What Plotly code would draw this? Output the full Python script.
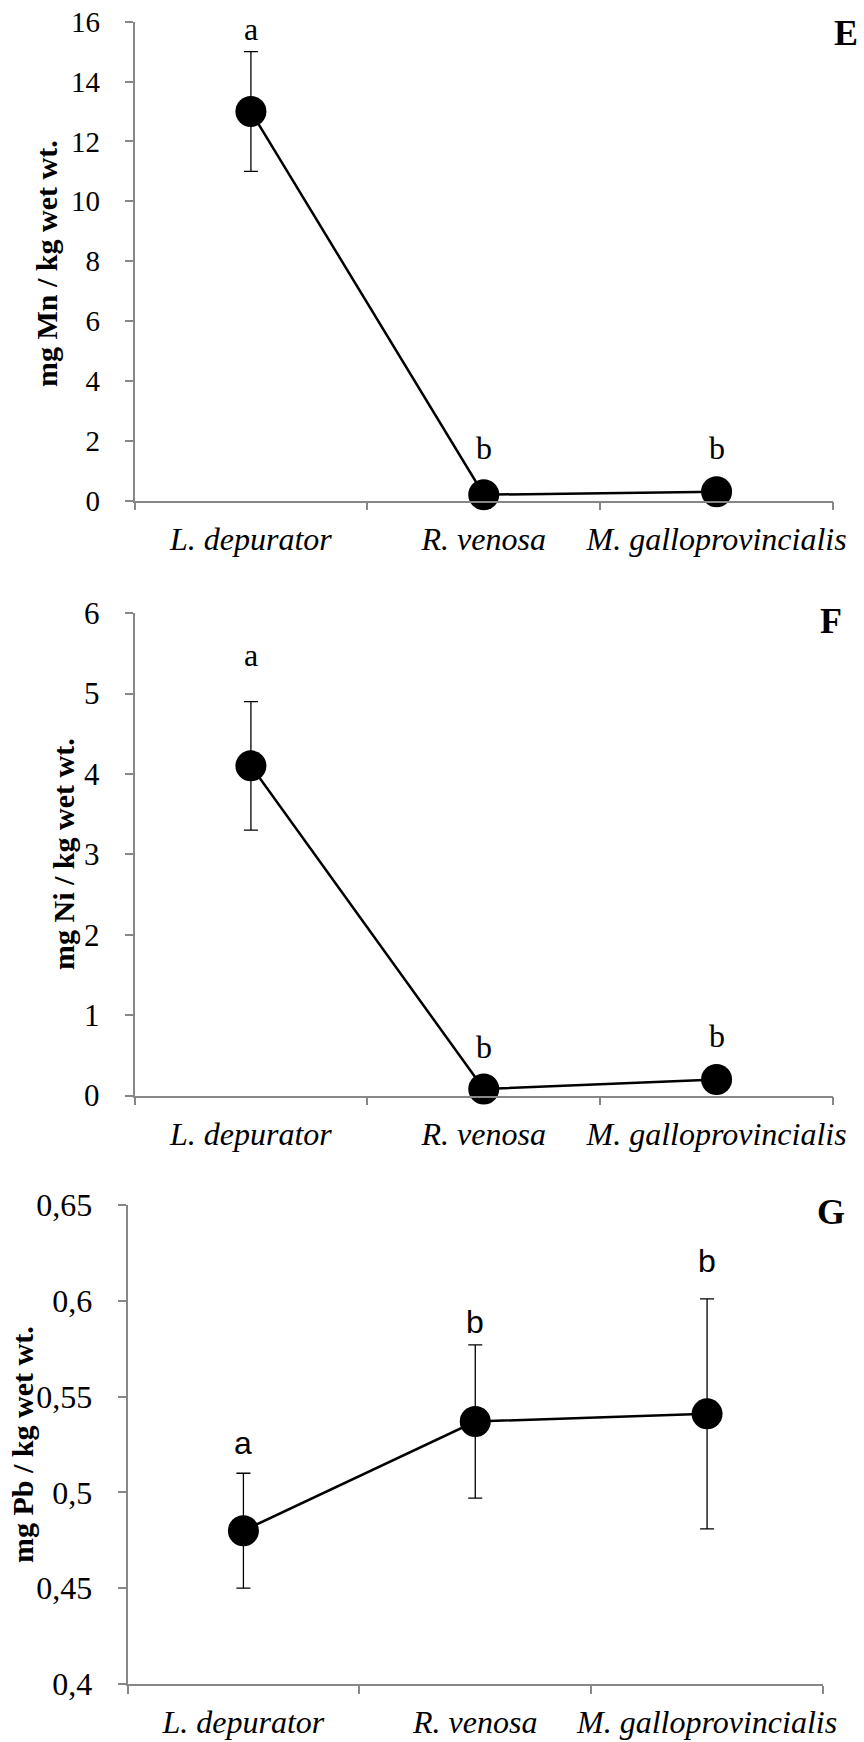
import plotly.graph_objects as go

W, H = 864, 1742

categories = ["L. depurator", "R. venosa", "M. galloprovincialis"]

mn_mean = [13.0, 0.2, 0.3]
mn_err = [2.0, 0.1, 0.1]
mn_letters = ["a", "b", "b"]
mn_letter_y = [15.75, 1.75, 1.75]
mn_ticks = [0, 2, 4, 6, 8, 10, 12, 14, 16]

ni_mean = [4.1, 0.08, 0.2]
ni_err = [0.8, 0.03, 0.05]
ni_letters = ["a", "b", "b"]
ni_letter_y = [5.48, 0.6, 0.74]
ni_ticks = [0, 1, 2, 3, 4, 5, 6]

pb_mean = [0.48, 0.537, 0.541]
pb_err = [0.03, 0.04, 0.06]
pb_letters = ["a", "b", "b"]
pb_letter_y = [0.526, 0.589, 0.621]
pb_ticks = [0.4, 0.45, 0.5, 0.55, 0.6, 0.65]
pb_ticktext = ["0,4", "0,45", "0,5", "0,55", "0,6", "0,65"]

SERIF = "Liberation Serif, Times New Roman, serif"
SANS = "Liberation Sans, Arial, sans-serif"
AX = "#878787"

def px_dom_x(a, b):
    return [a / W, b / W]

def px_dom_y(top, bottom):
    return [1 - bottom / H, 1 - top / H]

panels = [
    dict(mean=mn_mean, err=mn_err, letters=mn_letters, ly=mn_letter_y, ticks=mn_ticks,
         ticktext=[str(t) for t in mn_ticks], rng=[0, 16], xd=(134.5, 833), yd=(21.7, 500.7),
         tfs=29, title="mg Mn / kg wet wt.", tx=47, ty=264, label="E", lx=846, lyy=33, lfont=SERIF),
    dict(mean=ni_mean, err=ni_err, letters=ni_letters, ly=ni_letter_y, ticks=ni_ticks,
         ticktext=[str(t) for t in ni_ticks], rng=[0, 6], xd=(134.5, 833), yd=(613.1, 1095.5),
         tfs=31, title="mg Ni / kg wet wt.", tx=63, ty=854, label="F", lx=831, lyy=621, lfont=SERIF),
    dict(mean=pb_mean, err=pb_err, letters=pb_letters, ly=pb_letter_y, ticks=pb_ticks,
         ticktext=pb_ticktext, rng=[0.4, 0.65], xd=(127.5, 823), yd=(1205, 1684),
         tfs=32, title="mg Pb / kg wet wt.", tx=22, ty=1445, label="G", lx=831, lyy=1212, lfont=SANS),
]

fig = go.Figure()
annotations = []
layout = {}
for i, p in enumerate(panels):
    n = "" if i == 0 else str(i + 1)
    xa, ya = "x" + n, "y" + n
    fig.add_trace(go.Scatter(
        x=categories, y=p["mean"], xaxis=xa, yaxis=ya, mode="lines+markers",
        line=dict(color="black", width=2.5),
        marker=dict(color="black", size=31),
        error_y=dict(type="data", array=p["err"], symmetric=True, color="black",
                     thickness=1.3, width=7),
        showlegend=False, cliponaxis=False,
    ))
    layout["xaxis" + n] = dict(
        domain=px_dom_x(*p["xd"]), anchor=ya, type="category", automargin=False,
        range=[-0.5, 2.5], showline=True, linecolor=AX, linewidth=1.5,
        ticks="outside", tickson="boundaries", ticklen=8, tickcolor=AX, tickwidth=1.5,
        tickvals=categories, ticktext=["<i>%s</i>" % c for c in categories],
        tickangle=0,
        tickfont=dict(family=SERIF, size=32, color="black"),
        ticklabelstandoff=9,
        showgrid=False, zeroline=False, fixedrange=True,
    )
    layout["yaxis" + n] = dict(
        domain=px_dom_y(*p["yd"]), anchor=xa, range=p["rng"], automargin=False,
        showline=True, linecolor=AX, linewidth=1.5,
        ticks="outside", ticklen=8, tickcolor=AX, tickwidth=1.5,
        tickmode="array", tickvals=p["ticks"], ticktext=p["ticktext"],
        tickfont=dict(family=SERIF, size=p["tfs"], color="black"),
        ticklabelstandoff=19,
        showgrid=False, zeroline=False, fixedrange=True,
    )
    for c, t, yv in zip(categories, p["letters"], p["ly"]):
        annotations.append(dict(
            x=c, y=yv, xref=xa, yref=ya, text=t, showarrow=False,
            xanchor="center", yanchor="middle",
            font=dict(family=p["lfont"], size=32, color="black"),
        ))
    annotations.append(dict(
        x=p["tx"] / W, y=1 - p["ty"] / H, xref="paper", yref="paper",
        text="<b>%s</b>" % p["title"], textangle=-90, showarrow=False,
        xanchor="center", yanchor="middle",
        font=dict(family=SERIF, size=30, color="black"),
    ))
    annotations.append(dict(
        x=p["lx"] / W, y=1 - p["lyy"] / H, xref="paper", yref="paper",
        text="<b>%s</b>" % p["label"], showarrow=False,
        xanchor="center", yanchor="middle",
        font=dict(family=SERIF, size=36, color="black"),
    ))

fig.update_layout(
    width=W, height=H, margin=dict(l=0, r=0, t=0, b=0),
    font=dict(family=SERIF, color="black"),
    paper_bgcolor="white", plot_bgcolor="white",
    annotations=annotations, **layout,
)

fig.write_html("out.html", config={"displayModeBar": False},
               post_script="document.body.style.margin='0';")
